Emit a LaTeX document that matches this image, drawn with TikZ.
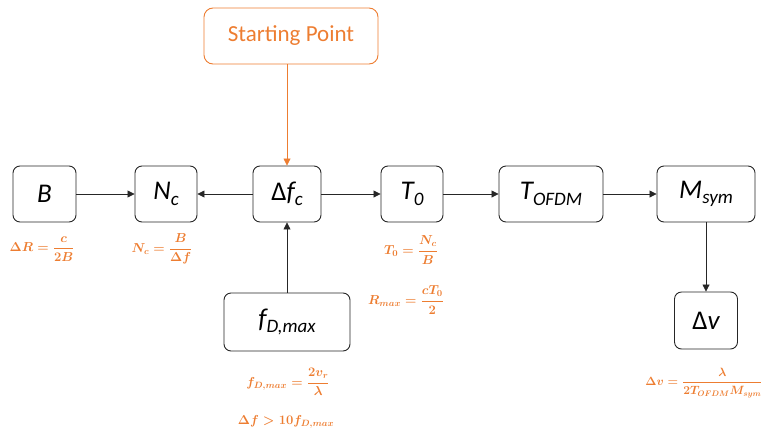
\documentclass[tikz,border=0pt]{standalone}
\usepackage{fix-cm}
\usepackage{amsmath}
\usepackage{fontspec}
\setmainfont{Carlito}
\usetikzlibrary{arrows.meta}
\definecolor{orng}{RGB}{237,125,49}
\newcommand\bsub[1]{\raisebox{-0.2em}{\fontsize{19}{19}\selectfont #1}}
\begin{document}
\begin{tikzpicture}[x=1pt,y=-1pt,
 box/.style={draw=black!85, rounded corners=7pt, line width=0.9pt, minimum height=56pt, font=\fontsize{27}{30}\selectfont\itshape, inner sep=0pt},
 sbox/.style={draw=orng, rounded corners=9pt, line width=0.9pt, text=orng, font=\fontsize{23}{26}\selectfont, minimum width=174pt, minimum height=56pt},
 arr/.style={-{Triangle[length=7pt,width=7pt]}, line width=0.8pt, draw=black!85},
 oarr/.style={-{Triangle[length=7pt,width=7pt]}, line width=0.8pt, draw=orng},
 eq/.style={text=orng, font=\fontsize{13}{15}\selectfont\boldmath, inner sep=0pt}]
\useasboundingbox (0,0) rectangle (767,431);
\node[sbox] (sp) at (291,36) {Starting Point};
\node[box, minimum width=63pt] (B) at (44.5,194) {B};
\node[box, minimum width=62pt] (Nc) at (166,194) {N\bsub{c}};
\node[box, minimum width=68pt] (dfc) at (287,194) {{\upshape Δ}f\bsub{c}};
\node[box, minimum width=62pt] (T0) at (412,194) {T\bsub{0}};
\node[box, minimum width=104pt] (Tofdm) at (551,194) {T\bsub{OFDM}};
\node[box, minimum width=98pt] (Msym) at (706,194) {M\bsub{sym}};
\node[box, minimum width=63pt, minimum height=57pt] (dv) at (706,320.5) {{\upshape Δ}v};
\node[box, minimum width=126pt, minimum height=58pt] (fd) at (287,322) {f\bsub{D,max}};
\draw[arr] (B) -- (Nc);
\draw[arr] (dfc) -- (Nc);
\draw[arr] (dfc) -- (T0);
\draw[arr] (T0) -- (Tofdm);
\draw[arr] (Tofdm) -- (Msym);
\draw[arr] (Msym.south) -- (dv.north);
\draw[arr] (fd.north) -- (dfc.south);
\draw[oarr] (sp.south -| dfc.north) -- (dfc.north);
\node[eq] (e1) at (42,249) {$\Delta R = \dfrac{c}{2B}$};
\node[eq] (e2) at (162,249) {$N_c = \dfrac{B}{\Delta f}$};
\node[eq] (e3) at (411,250) {$T_0 = \dfrac{N_c}{B}$};
\node[eq] (e4) at (406,300) {$R_{max} = \dfrac{cT_0}{2}$};
\node[eq] (e5) at (288,382) {$f_{D,max} = \dfrac{2v_r}{\lambda}$};
\node[eq] (e6) at (286,422) {$\Delta f > 10 f_{D,max}$};
\node[eq, font=\fontsize{12}{14}\selectfont\boldmath] (e7) at (704,383) {$\Delta v = \dfrac{\lambda}{2T_{OFDM}M_{sym}}$};
\end{tikzpicture}
\end{document}
